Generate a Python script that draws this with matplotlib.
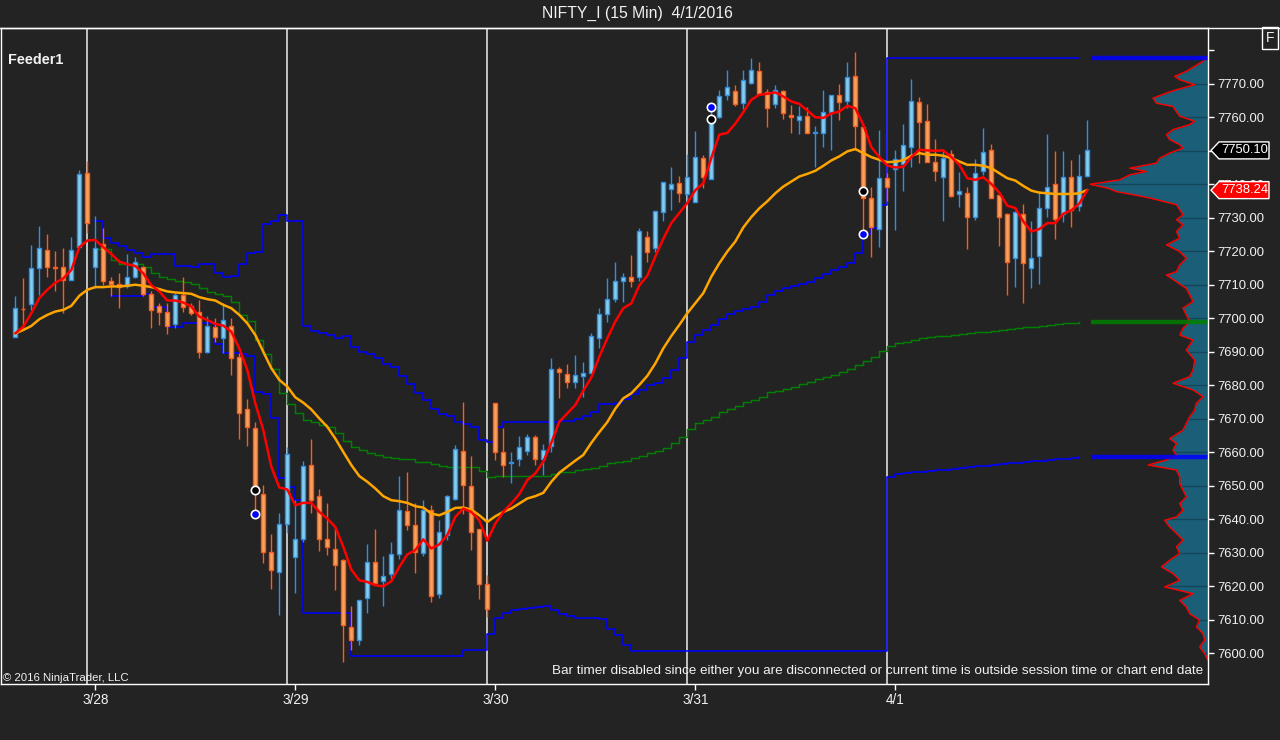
import numpy as np
import matplotlib
matplotlib.use("Agg")
import matplotlib.pyplot as plt
from matplotlib.patches import Polygon
from matplotlib.lines import Line2D
from matplotlib.transforms import IdentityTransform

plt.rcParams['font.family'] = ['Liberation Sans', 'DejaVu Sans']

nan = np.nan

# ---------------------------------------------------------------- data
# 15 min bars, index 0 = first bar on screen
opens = [7694.5, 7702.9, 7704.2, 7714.9, 7720.3, 7715.4, 7715.2, 7711.4, 7721.2, 7743.3,
         7715.2, 7722.1, 7711.1, 7710.1, 7709.5, 7712.4, 7715.2, 7707.2, 7703.7, 7701.8,
         7698.2, 7706.9, 7703.8, 7701.8, 7690.0, 7697.3, 7694.0, 7697.8, 7688.3, 7672.8,
         7667.1, 7647.4, 7630.1, 7624.3, 7638.7, 7628.8, 7634.0, 7656.1, 7646.9, 7634.0,
         7631.0, 7627.8, 7607.9, 7603.9, 7616.6, 7627.3, 7621.5, 7623.6, 7629.6, 7642.4,
         7638.4, 7629.8, 7642.9, 7617.8, 7635.3, 7646.0, 7660.4, 7649.9, 7637.1, 7620.8,
         7674.6, 7660.0, 7656.7, 7657.9, 7660.5, 7664.6, 7658.0, 7661.9, 7685.0, 7683.4,
         7681.1, 7682.9, 7683.6, 7694.0, 7701.2, 7705.7, 7711.0, 7712.4, 7712.4, 7724.4,
         7720.9, 7731.6, 7738.5, 7740.3, 7737.0, 7734.8, 7747.8, 7741.5, 7760.0, 7766.5,
         7767.7, 7764.2, 7770.2, 7773.7, 7767.5, 7763.9, 7767.7, 7760.6, 7759.1, 7760.3,
         7755.3, 7755.3, 7761.6, 7766.5, 7764.7, 7772.4, 7757.1, 7735.9, 7726.6, 7741.8,
         7744.5, 7746.1, 7751.1, 7764.4, 7758.8, 7746.6, 7742.1, 7749.0, 7737.0, 7737.5,
         7730.2, 7744.0, 7750.1, 7736.8, 7731.1, 7717.9, 7731.1, 7714.9, 7718.6, 7732.9,
         7740.0, 7731.2, 7742.1, 7733.6, 7742.6]
highs = [7706.7, 7711.9, 7721.9, 7727.4, 7725.2, 7720.2, 7720.9, 7724.2, 7744.3, 7746.8,
         7730.6, 7726.9, 7712.4, 7713.4, 7719.1, 7718.4, 7715.4, 7708.0, 7704.5, 7704.5,
         7707.5, 7712.2, 7704.5, 7705.3, 7700.7, 7700.0, 7704.5, 7700.0, 7689.5, 7675.9,
         7669.1, 7650.2, 7635.6, 7642.0, 7661.6, 7645.7, 7657.4, 7663.9, 7649.0, 7644.9,
         7637.7, 7628.0, 7614.0, 7616.0, 7632.5, 7637.0, 7629.0, 7633.1, 7652.9, 7654.0,
         7645.0, 7645.7, 7644.2, 7639.7, 7647.2, 7662.1, 7675.1, 7658.9, 7637.1, 7623.3,
         7674.6, 7667.3, 7660.2, 7664.8, 7665.6, 7665.1, 7662.4, 7688.0, 7685.5, 7686.3,
         7689.0, 7686.8, 7695.5, 7703.0, 7711.9, 7716.7, 7713.6, 7718.9, 7726.9, 7725.9,
         7732.1, 7740.6, 7745.1, 7742.5, 7749.1, 7756.0, 7748.8, 7762.5, 7768.0, 7774.2,
         7769.7, 7774.2, 7777.7, 7776.4, 7768.4, 7769.7, 7768.2, 7763.7, 7763.4, 7763.0,
         7757.5, 7768.2, 7766.7, 7770.0, 7776.5, 7779.4, 7757.1, 7739.3, 7756.3, 7743.3,
         7750.3, 7758.1, 7771.5, 7766.0, 7764.0, 7753.5, 7749.8, 7750.3, 7743.6, 7739.3,
         7747.5, 7756.8, 7752.1, 7736.8, 7731.4, 7731.9, 7734.1, 7728.9, 7738.1, 7755.1,
         7749.8, 7749.8, 7747.3, 7749.1, 7759.3]
lows = [7694.5, 7697.0, 7702.5, 7707.0, 7712.4, 7708.0, 7701.7, 7711.4, 7721.2, 7725.4,
        7709.0, 7709.9, 7706.5, 7703.0, 7709.0, 7711.9, 7706.5, 7697.0, 7698.0, 7695.3,
        7697.0, 7702.0, 7701.0, 7688.0, 7689.7, 7693.0, 7689.5, 7683.0, 7664.1, 7662.0,
        7642.5, 7627.0, 7619.3, 7611.5, 7636.0, 7618.1, 7633.1, 7642.0, 7630.6, 7629.3,
        7619.0, 7597.4, 7600.9, 7602.6, 7611.9, 7621.0, 7614.1, 7622.3, 7628.0, 7636.7,
        7624.0, 7629.1, 7615.3, 7616.6, 7633.8, 7645.7, 7641.7, 7630.8, 7616.3, 7610.9,
        7657.7, 7652.7, 7650.9, 7656.0, 7659.2, 7656.2, 7653.2, 7660.2, 7676.1, 7679.1,
        7679.1, 7676.4, 7683.6, 7691.2, 7699.0, 7704.8, 7704.8, 7709.3, 7711.0, 7716.9,
        7719.9, 7728.9, 7732.4, 7734.8, 7734.3, 7734.8, 7738.8, 7741.5, 7759.8, 7765.2,
        7763.4, 7762.4, 7769.9, 7766.7, 7757.1, 7762.7, 7759.6, 7755.3, 7755.1, 7755.3,
        7745.0, 7751.1, 7750.1, 7759.3, 7762.7, 7750.3, 7725.1, 7718.4, 7721.4, 7734.9,
        7726.2, 7738.1, 7745.1, 7746.3, 7746.6, 7741.1, 7728.9, 7736.2, 7733.2, 7720.6,
        7729.2, 7742.8, 7735.8, 7721.7, 7707.0, 7709.3, 7704.5, 7709.0, 7710.3, 7730.2,
        7723.6, 7728.6, 7727.2, 7731.9, 7742.3]
closes = [7703.0, 7702.7, 7714.9, 7720.9, 7715.2, 7715.1, 7711.4, 7720.3, 7743.0, 7728.4,
          7720.9, 7711.1, 7710.1, 7709.3, 7712.4, 7716.7, 7707.2, 7702.4, 7701.8, 7697.7,
          7706.9, 7703.5, 7701.5, 7690.0, 7697.7, 7694.3, 7699.4, 7688.0, 7671.6, 7667.4,
          7649.2, 7630.1, 7625.0, 7638.7, 7659.6, 7634.0, 7655.9, 7645.7, 7634.0, 7631.6,
          7626.5, 7608.5, 7603.9, 7616.0, 7627.3, 7621.0, 7623.0, 7629.5, 7642.7, 7638.4,
          7630.1, 7642.9, 7617.0, 7636.1, 7646.9, 7660.9, 7650.1, 7636.1, 7620.8, 7613.1,
          7660.0, 7656.1, 7657.2, 7661.5, 7664.6, 7657.9, 7660.7, 7685.0, 7683.9, 7681.1,
          7683.1, 7683.6, 7694.7, 7701.2, 7705.7, 7711.2, 7712.4, 7711.0, 7725.9, 7719.9,
          7731.9, 7740.6, 7740.0, 7737.5, 7742.1, 7748.1, 7742.3, 7758.8, 7766.2, 7769.0,
          7763.9, 7771.0, 7774.0, 7766.9, 7762.7, 7768.0, 7761.3, 7760.1, 7760.3, 7755.3,
          7755.6, 7761.6, 7766.5, 7764.4, 7771.9, 7757.3, 7735.9, 7727.2, 7741.8, 7739.3,
          7747.5, 7751.7, 7764.7, 7758.5, 7746.6, 7744.0, 7747.8, 7736.6, 7738.1, 7730.2,
          7743.5, 7749.5, 7735.8, 7730.2, 7716.9, 7731.6, 7716.4, 7717.9, 7732.9, 7739.1,
          7729.6, 7742.1, 7732.4, 7742.6, 7750.1]

# moving averages (red = fast, orange = slow)
ma_fast = [7695.5, 7697.5, 7701.5, 7706.0, 7708.5, 7710.6, 7711.9, 7714.4, 7721.2, 7723.2,
           7723.4, 7721.2, 7719.2, 7716.9, 7716.1, 7715.6, 7713.4, 7709.9, 7708.0, 7705.3,
           7705.3, 7704.7, 7703.5, 7700.5, 7699.5, 7698.3, 7697.8, 7696.0, 7691.0, 7684.6,
           7674.6, 7666.6, 7655.7, 7649.5, 7648.9, 7644.2, 7644.9, 7644.9, 7642.2, 7640.2,
           7637.7, 7631.8, 7625.0, 7621.8, 7621.3, 7620.3, 7620.0, 7621.5, 7625.8, 7629.5,
           7630.8, 7634.0, 7631.3, 7632.5, 7635.3, 7640.7, 7643.2, 7642.2, 7639.7, 7633.6,
           7638.7, 7642.2, 7644.7, 7647.5, 7651.7, 7653.7, 7657.2, 7662.8, 7669.1, 7671.6,
           7674.1, 7678.4, 7682.3, 7688.5, 7694.0, 7699.0, 7703.0, 7704.4, 7709.8, 7712.7,
           7718.4, 7723.7, 7728.4, 7731.4, 7734.4, 7738.2, 7740.3, 7747.8, 7754.8, 7755.3,
           7758.1, 7761.5, 7765.2, 7766.7, 7767.0, 7767.4, 7766.2, 7764.7, 7764.0, 7762.0,
           7760.0, 7759.8, 7761.1, 7761.7, 7763.4, 7762.7, 7757.8, 7751.1, 7748.1, 7745.6,
           7745.0, 7745.2, 7748.1, 7750.3, 7750.1, 7750.0, 7750.1, 7748.1, 7745.8, 7741.8,
           7741.3, 7742.1, 7740.1, 7737.5, 7733.6, 7732.9, 7728.9, 7725.9, 7726.6, 7728.4,
           7728.4, 7731.2, 7732.2, 7734.2, 7738.24]
ma_slow = [7695.5, 7696.5, 7697.7, 7699.7, 7701.0, 7702.0, 7702.5, 7703.7, 7706.7, 7708.5,
           7709.3, 7709.3, 7709.5, 7709.5, 7709.7, 7710.0, 7709.7, 7709.3, 7708.7, 7708.0,
           7707.7, 7707.5, 7707.3, 7706.3, 7705.7, 7705.3, 7704.0, 7703.0, 7701.0, 7698.5,
           7695.0, 7690.0, 7685.1, 7681.6, 7679.6, 7676.4, 7674.8, 7672.8, 7670.1, 7667.6,
           7664.1, 7660.1, 7656.2, 7652.9, 7651.2, 7649.2, 7646.9, 7645.7, 7645.4, 7644.9,
           7643.9, 7643.5, 7641.7, 7641.2, 7642.2, 7643.4, 7643.5, 7642.9, 7641.2, 7639.2,
           7640.9, 7642.2, 7643.2, 7644.7, 7646.2, 7646.9, 7647.9, 7651.2, 7653.9, 7655.7,
           7657.5, 7659.2, 7662.8, 7666.0, 7669.0, 7673.0, 7676.1, 7677.6, 7680.1, 7682.8,
           7686.5, 7691.0, 7694.7, 7698.0, 7701.5, 7704.5, 7707.5, 7712.4, 7716.4, 7719.9,
           7722.9, 7727.1, 7730.2, 7732.8, 7734.9, 7737.3, 7739.3, 7740.8, 7742.3, 7743.1,
           7744.0, 7745.5, 7747.1, 7748.3, 7749.8, 7750.5, 7749.3, 7748.1, 7747.3, 7746.6,
           7746.7, 7747.2, 7748.5, 7749.3, 7748.8, 7748.8, 7748.5, 7747.8, 7746.8, 7745.8,
           7745.8, 7745.5, 7744.8, 7743.3, 7741.8, 7741.1, 7739.5, 7738.1, 7737.5, 7737.3,
           7737.1, 7737.1, 7737.1, 7737.3, 7738.3]

# stepped indicator lines (blue trailing levels, green average)
stop_upper = [nan] * 10 + [
    7728.9, 7723.9, 7722.4, 7721.6, 7720.4, 7719.4, 7718.4, 7719.2, 7719.2, 7719.2,
    7715.6, 7715.6, 7715.3, 7716.2, 7716.2, 7713.4, 7712.3, 7712.6, 7716.1, 7719.4,
    7719.7, 7728.1, 7728.9, 7730.7, 7728.9, 7728.9, 7697.7, 7696.3, 7695.5, 7695.0,
    7694.2, 7694.8, 7691.5, 7690.0, 7689.2, 7688.0, 7686.3, 7685.5, 7682.9, 7680.4,
    7677.8, 7675.5, 7672.8, 7671.3, 7670.8, 7669.0, 7668.4, 7667.6, 7663.6, 7663.0,
    7667.6] + [7669.1] * 7 + [
    7669.4, 7669.4, 7669.9, 7670.8, 7672.1, 7674.3, 7674.3, 7674.6, 7675.8, 7677.3,
    7678.6, 7680.1, 7680.8, 7682.1, 7684.6, 7688.2, 7692.8, 7695.0, 7696.5, 7698.0,
    7699.7, 7701.2, 7702.2, 7702.8, 7703.5, 7704.8, 7707.0, 7708.0, 7709.0, 7709.7,
    7710.2, 7710.8, 7711.9, 7713.1, 7714.4, 7715.2, 7716.4, 7719.4, 7725.2, 7726.9,
    7733.9] + [7777.7] * 25
stop_lower = [nan] * 12 + [7706.5] * 4 + [7707.2, 7703.5, 7703.5, 7697.5, 7697.3] + \
    [7698.7] * 4 + [7692.3, 7689.5, 7689.5, 7689.3, 7688.8, 7677.9, 7677.4, 7670.1,
                    7652.2, 7649.5, 7645.7] + \
    [7612.1] * 6 + [7599.3] * 14 + \
    [7600.9, 7600.9, 7601.1, 7605.9, 7610.4, 7612.1, 7612.8, 7613.1, 7613.4, 7613.8,
     7614.0, 7612.8, 7611.7, 7611.1] + [7610.4] * 3 + [7610.1, 7607.4, 7605.4, 7602.4] + \
    [7600.8] * 32 + \
    [7652.5, 7653.5, 7653.8, 7654.0, 7654.2, 7654.4, 7654.6, 7654.8, 7655.0, 7655.3,
     7655.6, 7655.8, 7656.0, 7656.2, 7656.4, 7656.7, 7656.9, 7657.1, 7657.3, 7657.5,
     7657.7, 7657.9, 7658.1, 7658.3, 7658.5]
avg_line = [nan] * 10 + [
    7720.6, 7720.6, 7717.4, 7716.1, 7716.1, 7716.1, 7715.4, 7713.4, 7712.4, 7711.6,
    7711.2, 7710.8, 7710.1, 7709.0, 7707.9, 7707.3, 7706.5, 7705.0, 7701.0, 7699.1,
    7693.5, 7689.2, 7684.8, 7677.8, 7674.4, 7671.6, 7669.6, 7669.1, 7668.1, 7667.4,
    7665.9, 7663.4, 7661.6, 7660.6, 7659.7, 7659.2, 7658.7, 7658.4, 7658.0, 7657.9,
    7657.1, 7657.0, 7656.5, 7655.9, 7655.5, 7655.5, 7655.5, 7655.5, 7654.4, 7652.5,
    7652.9, 7652.9, 7652.9, 7652.9, 7652.9, 7652.9, 7652.9, 7653.5, 7654.0, 7654.2,
    7654.8, 7654.9, 7655.3, 7656.0, 7656.7, 7657.2, 7657.4, 7658.2, 7658.9, 7659.7,
    7660.4, 7661.3, 7662.9, 7664.6, 7666.8, 7668.6, 7669.6, 7670.6, 7671.9, 7673.0,
    7673.9, 7674.9, 7675.6, 7676.6, 7677.9, 7678.4, 7678.9, 7679.4, 7680.3, 7680.9,
    7681.8, 7682.4, 7683.1, 7683.9, 7684.8, 7686.1, 7687.3, 7688.3, 7690.3, 7691.7,
    7692.5, 7693.0, 7693.5, 7694.0, 7694.3, 7694.6, 7694.8, 7695.0, 7695.3, 7695.6,
    7695.8, 7696.0, 7696.3, 7696.5, 7696.8, 7697.0, 7697.3, 7697.5, 7697.7, 7698.0,
    7698.3, 7698.5, 7698.7, 7698.9]

# swing markers
black_dot_bars = [30, 87, 106]
black_dot_prices = [7648.6, 7759.4, 7738.0]
blue_dot_bars = [30, 87, 106]
blue_dot_prices = [7641.7, 7763.0, 7725.1]

# sessions
session_bars = [9, 34, 59, 84, 109]
date_labels = ["3/28", "3/29", "3/30", "3/31", "4/1"]

# volume profile (relative volume, 100 = largest)
profile_price = [7778.0, 7776.7, 7775.2, 7773.7, 7772.2, 7771.2, 7769.7, 7768.2, 7767.2, 7765.7,
                 7764.2, 7763.2, 7761.7, 7760.3, 7758.8, 7757.8, 7756.3, 7754.8, 7753.3, 7751.8,
                 7750.8, 7749.3, 7747.8, 7746.3, 7744.8, 7743.8, 7742.8, 7741.3, 7740.0, 7738.8,
                 7737.8, 7736.9, 7735.9, 7734.9, 7733.9, 7732.4, 7730.9, 7729.4, 7727.9, 7725.9,
                 7723.9, 7721.9, 7719.9, 7717.9, 7715.9, 7713.9, 7712.9, 7710.9, 7708.9, 7707.0,
                 7705.0, 7703.0, 7701.0, 7699.0, 7697.0, 7695.0, 7693.5, 7690.5, 7687.5, 7684.6,
                 7682.6, 7680.6, 7678.6, 7676.6, 7674.6, 7672.6, 7670.6, 7668.6, 7666.6, 7664.1,
                 7662.6, 7660.7, 7659.1, 7657.7, 7656.2, 7654.7, 7652.7, 7650.7, 7648.7, 7646.7,
                 7644.7, 7642.7, 7640.7, 7639.7, 7637.7, 7635.8, 7633.8, 7631.8, 7629.8, 7627.8,
                 7625.8, 7623.8, 7621.8, 7619.8, 7617.8, 7615.8, 7613.8, 7611.8, 7609.9, 7607.9,
                 7605.9, 7603.9, 7601.9, 7599.9, 7597.9]
profile_vol = [0, 4.2, 11.3, 18.4, 28.2, 24.0, 11.3, 26.8, 35.3, 46.6,
               43.8, 29.7, 26.8, 24.0, 11.3, 15.5, 29.7, 35.3, 32.5, 24.0,
               21.2, 32.5, 41.0, 43.8, 66.4, 52.3, 66.4, 74.9, 100, 84.7,
               77.7, 63.6, 49.4, 38.1, 26.8, 24.0, 21.2, 26.8, 21.2, 26.8,
               24.0, 35.3, 24.0, 18.4, 24.0, 26.8, 35.3, 26.8, 18.4, 15.5,
               12.7, 21.2, 18.4, 15.5, 21.2, 24.0, 12.7, 18.4, 11.3, 12.7,
               15.5, 29.7, 12.7, 4.2, 9.9, 11.3, 15.5, 18.4, 21.2, 32.5,
               26.8, 29.7, 26.8, 35.3, 50.8, 26.8, 24.0, 24.0, 21.2, 18.4,
               24.0, 21.2, 26.8, 36.7, 32.5, 26.8, 21.2, 26.8, 24.0, 32.5,
               39.5, 29.7, 24.0, 36.7, 12.7, 24.0, 18.4, 15.5, 7.1, 9.9,
               4.2, 2.8, 7.1, 2.8, 0]

last_close = 7750.10
last_ma = 7738.24

# ---------------------------------------------------------------- style
BG = "#232323"
UP_FILL, UP_EDGE = "#87ceeb", "#2f8fe8"
DN_FILL, DN_EDGE = "#f4a460", "#ff5a1a"
TXT = "#f2f2f2"


def price_tag(ax, value, label, face):
    """Draw a NinjaTrader-like price marker on the right axis."""
    fig = ax.figure
    y = ax.transData.transform((0, value))[1]
    x0 = ax.transAxes.transform((1, 0))[0]
    tip, left, right, half = x0 + 3, x0 + 11, x0 + 61, 8.5
    verts = [[tip, y], [left, y + half], [right, y + half], [right, y - half], [left, y - half]]
    fig.add_artist(Polygon(verts, closed=True, transform=IdentityTransform(),
                           facecolor=face, edgecolor="white", lw=1, zorder=10))
    fig.text((left + right) / 2 + 1, y, label, transform=IdentityTransform(),
             ha="center", va="center", color="white", fontsize=9.4, zorder=11)


def main():
    fig = plt.figure(figsize=(12.8, 7.4), dpi=100, facecolor=BG)
    ax = fig.add_axes([1 / 1280, 56 / 740, 1207 / 1280, 656 / 740])
    ax2 = ax.twiny()
    ax.set_zorder(2)
    ax2.set_zorder(1)
    ax.patch.set_visible(False)

    bars = np.arange(len(closes))
    o, h, l, c = (np.array(v) for v in (opens, highs, lows, closes))
    up = c >= o
    body_lo = np.minimum(o, c)
    body_h = np.abs(c - o)

    # Session separators
    for b in session_bars:
        ax.axvline(b, color="#cfcfcf", lw=1.3, zorder=1)

    yticks = np.arange(7600, 7790, 10)

    # Stepped lines
    ax.step(np.arange(len(stop_upper)), stop_upper, where="post", color="#0000ff", lw=1.15, zorder=2)
    ax.step(np.arange(len(stop_lower)), stop_lower, where="post", color="#0000ff", lw=1.15, zorder=2)
    ax.step(np.arange(len(avg_line)), avg_line, where="post", color="#008000", lw=1.05, zorder=2)

    # Levels projected into the profile area
    xmax = 149.09
    ax.hlines([stop_upper[-1], stop_lower[-1]], 134.5, xmax, colors="#0000ff", lw=3.2,
              alpha=0.85, zorder=2)
    ax.hlines([avg_line[-1]], 134.5, xmax, colors="#008000", lw=3.2, alpha=0.85, zorder=2)

    # Candles
    for mask, fill, edge in ((up, UP_FILL, UP_EDGE), (~up, DN_FILL, DN_EDGE)):
        ax.vlines(bars[mask], l[mask], h[mask], color=edge, lw=1.0, zorder=3)
        ax.bar(bars[mask], body_h[mask], bottom=body_lo[mask], width=0.55,
               facecolor=fill, edgecolor=edge, lw=1.0, zorder=4)

    # Moving averages
    ax.plot(bars, ma_slow, color="#ffa500", lw=1.8, zorder=5, solid_capstyle="round")
    ax.plot(bars, ma_fast, color="#ff0000", lw=1.8, zorder=6, solid_capstyle="round")

    # Swing markers
    ax.plot(black_dot_bars, black_dot_prices, "o", ms=6, mfc="black", mec="white", mew=1.2, zorder=7)
    ax.plot(blue_dot_bars, blue_dot_prices, "o", ms=6, mfc="#0000ff", mec="white", mew=1.2, zorder=7)

    # Volume profile, grid only visible inside the filled area
    prof = ax2.fill_betweenx(profile_price, 0, profile_vol, color="#1b5e78", lw=0)
    grid = ax2.hlines(yticks, 0, 100, colors="#124559", lw=1)
    grid.set_clip_path(prof.get_paths()[0], ax2.transData)
    ax2.plot(profile_vol, profile_price, color="#ff0000", lw=1.0)
    ax2.set_xlim(1207 / 1.18, 0)
    ax2.set_xticks([])
    for sp in ax2.spines.values():
        sp.set_visible(False)

    # Axes; the 7750 label sits fully under the last-price tag, as in NinjaTrader
    ax.set_xlim(-1.7875, xmax)
    ax.set_ylim(7590.84, 7786.63)
    ax.yaxis.tick_right()
    ax.set_yticks(yticks)
    ax.set_yticklabels([f"{v:.2f}" if v not in (7750, 7780) else "" for v in yticks])
    ax.set_xticks([b + 1 for b in session_bars])
    ax.set_xticklabels(date_labels)
    ax.tick_params(axis="y", colors="white", labelcolor=TXT, labelsize=9.4,
                   length=4.5, width=1, pad=2.5)
    ax.tick_params(axis="x", colors="white", labelcolor=TXT, labelsize=9.8,
                   length=4.5, width=1, pad=2)
    for sp in ax.spines.values():
        sp.set_color("white")
        sp.set_linewidth(1)

    # Frame line across the top
    fig.add_artist(Line2D([0, 1], [712.5 / 740, 712.5 / 740], transform=fig.transFigure,
                          color="white", lw=1))

    # Texts
    fig.text(637 / 1280, 1 - 13 / 740, "NIFTY_I (15 Min)  4/1/2016", ha="center",
             va="center", color=TXT, fontsize=11.3)
    fig.text(8 / 1280, 1 - 60 / 740, "Feeder1", ha="left", va="center", color=TXT,
             fontsize=10.4, fontweight="bold")
    fig.text(3 / 1280, 1 - 678 / 740, "\u00a9 2016 NinjaTrader, LLC", ha="left",
             va="center", color=TXT, fontsize=8.2)
    fig.text(1203 / 1280, 1 - 671 / 740,
             "Bar timer disabled since either you are disconnected or current time is "
             "outside session time or chart end date",
             ha="right", va="center", color=TXT, fontsize=9.7)
    fig.text(1270 / 1280, 1 - 38 / 740, "F", ha="center", va="center", color=TXT,
             fontsize=10, bbox=dict(boxstyle="square,pad=0.3", fc="none", ec="white", lw=1))

    price_tag(ax, last_close, f"{last_close:.2f}", "black")
    price_tag(ax, last_ma, f"{last_ma:.2f}", "#ff0000")

    fig.savefig("out.png", dpi=100, facecolor=BG)


if __name__ == "__main__":
    main()
